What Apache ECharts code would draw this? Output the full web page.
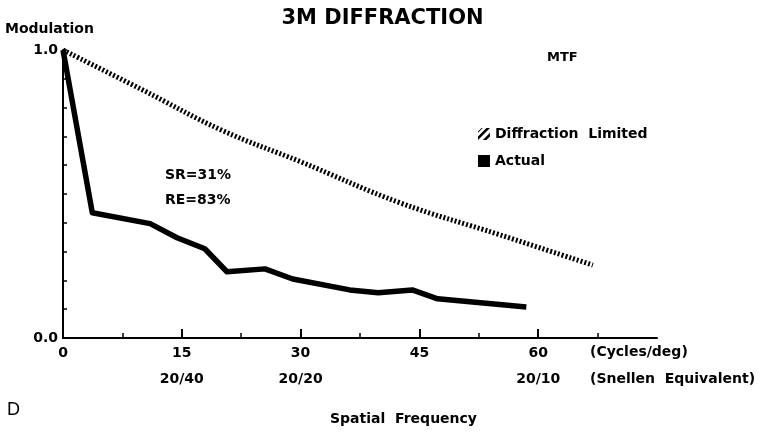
<!doctype html>
<html lang="en">
<head>
<meta charset="UTF-8">
<title>3M Diffraction MTF</title>
<script src="https://cdn.jsdelivr.net/npm/echarts@6/dist/echarts.min.js"></script>
<style>
  html, body { margin: 0; padding: 0; background: #fff; }
  #main { width: 765px; height: 433px; }
</style>
</head>
<body>
<div id="main"></div>
<script>
// values: [cycles/deg, modulation]
var diffraction = [[0, 1.0], [10, 0.862], [20, 0.722], [30, 0.612], [42.6, 0.469], [55.2, 0.358], [66.9, 0.253]];
var actual = [[0, 1.0], [3.7, 0.435], [11.0, 0.397], [14.4, 0.348], [17.9, 0.31], [20.7, 0.23],
              [25.5, 0.24], [29.0, 0.205], [36.2, 0.167], [39.8, 0.157], [44.1, 0.167], [47.3, 0.136], [58.5, 0.108]];
var majorTicks = [0, 15, 30, 45, 60];
var minorTicks = [7.5, 22.5, 37.5, 52.5, 67.5];
var snellen = { 15: '20/40', 30: '20/20', 60: '20/10' };

var font = 'DejaVu Sans, Verdana, sans-serif';

var hatch = 'path://M0,10L0,7L7,0L10,0Z M4,10L10,4L10,7L7,10Z M0,3L3,0L4,0L0,4Z';

var chart = echarts.init(document.getElementById('main'));
chart.setOption({
  animation: false,
  backgroundColor: '#fff',
  grid: { left: 63, right: 108, top: 50, bottom: 95 },
  title: {
    text: '3M DIFFRACTION', left: 'center', top: 3,
    textStyle: { fontFamily: font, fontWeight: 'bold', fontSize: 21, color: '#000' }
  },
  legend: {
    orient: 'vertical', left: 478, top: 127, itemGap: 13, padding: 0,
    itemWidth: 12, itemHeight: 12,
    textStyle: { fontFamily: font, fontWeight: 'bold', fontSize: 14, color: '#000', lineHeight: 14 },
    data: [
      { name: 'Diffraction  Limited', icon: hatch },
      { name: 'Actual', icon: 'rect' }
    ]
  },
  xAxis: [{
    type: 'value', min: 0, max: 75, interval: 15,
    axisLine: { lineStyle: { color: '#000', width: 2 } },
    axisTick: { inside: true, length: 9, lineStyle: { color: '#000', width: 2 }, customValues: majorTicks },
    splitLine: { show: false },
    axisLabel: {
      customValues: majorTicks, margin: 7,
      formatter: function (v) {
        return '{a|' + v + '}\n{b|' + (snellen[v] || '') + '}';
      },
      rich: {
        a: { fontFamily: font, fontWeight: 'bold', fontSize: 14, color: '#000', lineHeight: 16 },
        b: { fontFamily: font, fontWeight: 'bold', fontSize: 14, color: '#000', lineHeight: 36 }
      }
    }
  }, {
    type: 'value', min: 0, max: 75, position: 'bottom',
    axisLine: { show: false },
    axisTick: { inside: true, length: 5, lineStyle: { color: '#000', width: 1.5 }, customValues: minorTicks },
    axisLabel: { show: false },
    splitLine: { show: false }
  }],
  yAxis: {
    type: 'value', min: 0, max: 1, interval: 0.1,
    axisLine: { show: true, lineStyle: { color: '#000', width: 2 } },
    axisTick: { inside: true, length: 4, lineStyle: { color: '#000', width: 1.5 } },
    splitLine: { show: false },
    axisLabel: {
      margin: 5, fontFamily: font, fontWeight: 'bold', fontSize: 14, color: '#000',
      formatter: function (v) { return v === 0 ? '0.0' : (v === 1 ? '1.0' : ''); }
    }
  },
  graphic: [
    { type: 'text', left: 5, top: 22, style: { text: 'Modulation', font: 'bold 14px ' + font, fill: '#000' } },
    { type: 'text', left: 547, top: 51, style: { text: 'MTF', font: 'bold 13px ' + font, fill: '#000' } },
    { type: 'text', left: 165, top: 168, style: { text: 'SR=31%', font: 'bold 14px ' + font, fill: '#000' } },
    { type: 'text', left: 165, top: 193, style: { text: 'RE=83%', font: 'bold 14px ' + font, fill: '#000' } },
    { type: 'text', left: 590, top: 345, style: { text: '(Cycles/deg)', font: 'bold 14px ' + font, fill: '#000' } },
    { type: 'text', left: 590, top: 372, style: { text: '(Snellen  Equivalent)', font: 'bold 14px ' + font, fill: '#000' } },
    { type: 'text', left: 330, top: 412, style: { text: 'Spatial  Frequency', font: 'bold 14px ' + font, fill: '#000' } },
    { type: 'text', left: 7, top: 401, style: { text: 'D', font: '18px Liberation Sans, Arial, sans-serif', fill: '#000' } }
  ],
  series: [{
    name: 'Diffraction  Limited', type: 'line', smooth: 0.4, showSymbol: false,
    data: diffraction,
    itemStyle: { color: '#000' },
    lineStyle: { color: '#000', width: 5, type: [2, 2] }
  }, {
    name: 'Actual', type: 'line', showSymbol: false,
    data: actual,
    itemStyle: { color: '#000' },
    lineStyle: { color: '#000', width: 5.5, join: 'round' }
  }]
});
</script>
</body>
</html>
